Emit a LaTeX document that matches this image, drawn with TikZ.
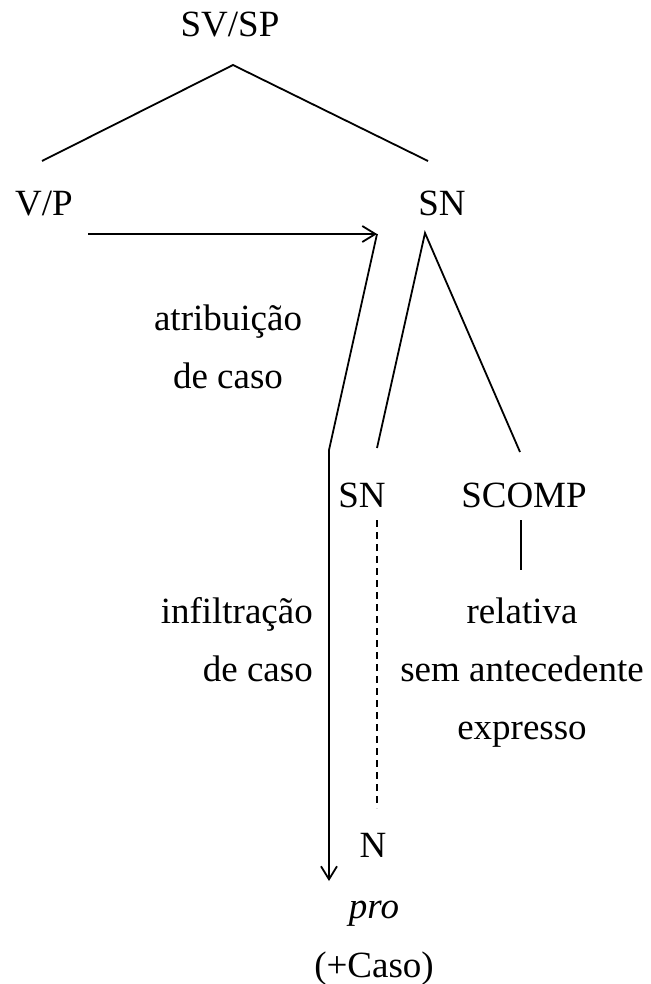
\documentclass[tikz,border=0pt]{standalone}
\usepackage{fontspec}
\setmainfont{Liberation Serif}
\usetikzlibrary{arrows, arrows.meta, positioning, calc}

\tikzset{
  lbl/.style={inner sep=0pt, anchor=base, font=\fontsize{37}{58}\selectfont},
  branch/.style={line width=1.8pt},
  casearrow/.style={branch, -{Straight Barb[length=13pt,width=16pt]}},
}

\begin{document}
\begin{tikzpicture}[x=1pt,y=-1pt]
\useasboundingbox (0,0) rectangle (650,984);

% nodes of the tree
\node [lbl] (svsp) at (230,37) {SV/SP};
\node [lbl] (vp) at (44,215) {V/P};
\node [lbl] (sn) at (442,215) {SN};
\node [lbl] (sn2) at (362,507) {SN};
\node [lbl] (scomp) at (524,507) {SCOMP};
\node [lbl] (n) at (373,857) {N};
\node [lbl] (pro) at (374,918) {\textit{pro}};
\node [lbl] (caso) at (374,977) {(+Caso)};

% texts beside the arrows (base = last line)
\node [lbl, align=center] (atrib) at (228,388) {atribuição\\de caso};
\node [lbl, align=right, anchor=base east] (infil) at (313,681) {infiltração\\de caso};
\node [lbl, align=center] (rel) at (522,739) {relativa\\sem antecedente\\expresso};

% branch points
\coordinate (apex) at (233,65);
\coordinate (vpup) at (42,161);
\coordinate (snup) at (428,161);
\coordinate (sndown) at (425,233);
\coordinate (sn2up) at (377,448);
\coordinate (scompup) at (520,452);
\coordinate (sn2down) at (377,520);
\coordinate (nup) at (377,808);
\coordinate (scompdown) at (521,520);
\coordinate (relup) at (521,570);

% case arrows
\coordinate (atrstart) at (88,234);
\coordinate (atrend) at (377,234);
\coordinate (bend) at (329,450);
\coordinate (proleft) at (329,881);

\draw [branch] (vpup) -- (apex) -- (snup);
\draw [branch] (sn2up) -- (sndown) -- (scompup);
\draw [branch, dash pattern=on 7pt off 5pt] (sn2down) -- (nup);
\draw [branch] (scompdown) -- (relup);

\draw [casearrow] (atrstart) -- (atrend);
\draw [casearrow] (atrend) -- (bend) -- (proleft);
\end{tikzpicture}
\end{document}
